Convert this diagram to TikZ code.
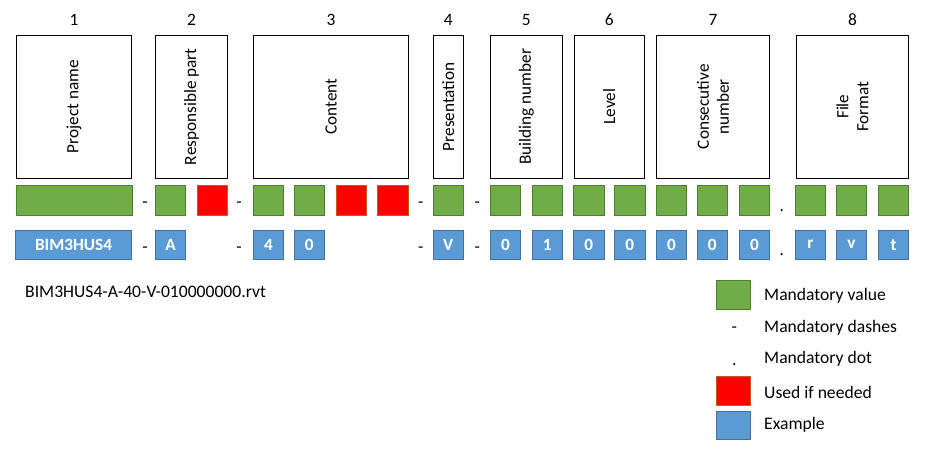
\documentclass[tikz,border=0pt]{standalone}
\usepackage{fontspec}
\setmainfont{Carlito}
\definecolor{gfill}{HTML}{70AD47}
\definecolor{gdraw}{HTML}{507E32}
\definecolor{rfill}{HTML}{FF0000}
\definecolor{rdraw}{HTML}{C55A11}
\definecolor{bfill}{HTML}{5B9BD5}
\definecolor{bdraw}{HTML}{41719C}
\tikzset{
  hdr/.style={draw=black, line width=0.8pt, fill=white, inner sep=0pt, minimum height=142.5pt},
  cell/.style={inner sep=0pt, minimum height=30pt, minimum width=30.4pt, line width=0.8pt},
  gcell/.style={cell, fill=gfill, draw=gdraw},
  rcell/.style={cell, fill=rfill, draw=rdraw},
  bcell/.style={cell, minimum height=29.5pt, fill=bfill, draw=bdraw, text=white, font=\fontsize{17.2}{19}\selectfont\bfseries},
  hlbl/.style={rotate=90, align=center, inner sep=0pt, font=\fontsize{17.2}{20}\selectfont},
  num/.style={inner sep=0pt, font=\fontsize{17.4}{19}\selectfont},
  sep/.style={inner sep=0pt, font=\fontsize{17.4}{19}\selectfont},
  txt/.style={inner sep=0pt, anchor=west, font=\fontsize{17.6}{19}\selectfont},
}
\begin{document}
\begin{tikzpicture}[x=1pt,y=-1pt]
\useasboundingbox (0,0) rectangle (928,468);
% header boxes
\node[hdr, minimum width=115.4pt] (h1) at (74,106.7) {};
\node[hdr, minimum width=72.4pt] (h2) at (191.5,106.7) {};
\node[hdr, minimum width=155.4pt] (h3) at (331,106.7) {};
\node[hdr, minimum width=30pt] (h4) at (448.3,106.7) {};
\node[hdr, minimum width=72pt] (h5) at (526.3,106.7) {};
\node[hdr, minimum width=70pt] (h6) at (609.3,106.7) {};
\node[hdr, minimum width=113.4pt] (h7) at (713,106.7) {};
\node[hdr, minimum width=112.4pt] (h8) at (852.5,106.7) {};
% header labels
\node[hlbl] (t1) at (h1.center) {Project name};
\node[hlbl] (t2) at (h2.center) {Responsible part};
\node[hlbl] (t3) at (h3.center) {Content};
\node[hlbl] (t4) at (h4.center) {Presentation};
\node[hlbl] (t5) at (h5.center) {Building number};
\node[hlbl] (t6) at (h6.center) {Level};
\node[hlbl] (t7) at (h7.center) {Consecutive\\number};
\node[hlbl] (t8) at (h8.center) {File\\Format};
% numbers
\foreach \i in {1,...,8} { \node[num] (n\i) at ([yshift=15.5pt]h\i.north) {\i}; }
% green / red row
\node[gcell, minimum width=116.4pt] (g1) at (74.5,200) {};
\node[gcell] (g2a) at (170.5,200) {};
\node[rcell] (g2b) at (212.3,200) {};
\node[gcell] (g3a) at (268.5,200) {};
\node[gcell] (g3b) at (309.3,200) {};
\node[rcell] (g3c) at (351.3,200) {};
\node[rcell] (g3d) at (393,200) {};
\node[gcell] (g4a) at (448.3,200) {};
\node[gcell] (g5a) at (505.5,200) {};
\node[gcell] (g5b) at (547.3,200) {};
\node[gcell] (g6a) at (588.8,200) {};
\node[gcell] (g6b) at (629.8,200) {};
\node[gcell] (g7a) at (671.5,200) {};
\node[gcell] (g7b) at (712.3,200) {};
\node[gcell] (g7c) at (754.5,200) {};
\node[gcell] (g8a) at (810.5,200) {};
\node[gcell] (g8b) at (851.5,200) {};
\node[gcell] (g8c) at (893.5,200) {};
% blue row
\node[bcell, minimum width=116.4pt] (b1) at (73.5,244.7) {BIM3HUS4};
\node[bcell] (b2a) at (170.5,244.7) {A};
\node[bcell] (b3a) at (268.5,244.7) {4};
\node[bcell] (b3b) at (309.3,244.7) {0};
\node[bcell] (b4a) at (448.3,244.7) {V};
\node[bcell] (b5a) at (505.5,244.7) {0};
\node[bcell] (b5b) at (547.3,244.7) {1};
\node[bcell] (b6a) at (588.8,244.7) {0};
\node[bcell] (b6b) at (629.8,244.7) {0};
\node[bcell] (b7a) at (671.5,244.7) {0};
\node[bcell] (b7b) at (712.3,244.7) {0};
\node[bcell] (b7c) at (754.5,244.7) {0};
\node[bcell] (b8a) at (810.5,244.7) {r};
\node[bcell] (b8b) at (851.5,244.7) {v};
\node[bcell] (b8c) at (893.5,244.7) {t};
% separators
\foreach \k/\x in {1/145,2/239,3/420.7,4/477.3} {
  \node[sep] (dg\k) at (\x,204.5) {-};
  \node[sep] (db\k) at (\x,249.5) {-};
}
\node[sep] (pg) at (781.7,210.5) {.};
\node[sep] (pb) at (781.7,255) {.};
% filename
\node[txt] (fn) at (25,292.3) {BIM3HUS4-A-40-V-010000000.rvt};
% legend
\node[gcell, minimum width=34pt, minimum height=28.6pt] (lg) at (733.7,295) {};
\node[sep] (ld) at (734.3,329.5) {-};
\node[sep] (lp) at (734.3,364.5) {.};
\node[rcell, minimum width=34pt, minimum height=28.6pt] (lr) at (733.7,391) {};
\node[cell, fill=bfill, draw=bdraw, minimum width=34pt, minimum height=27.6pt] (lb) at (733.7,425.5) {};
\node[txt] (lgt) at (764,295.7) {Mandatory value};
\node[txt] (ldt) at (764,328.3) {Mandatory dashes};
\node[txt] (lpt) at (764,359.3) {Mandatory dot};
\node[txt] (lrt) at (764,392.7) {Used if needed};
\node[txt] (lbt) at (764,425) {Example};
\end{tikzpicture}
\end{document}
